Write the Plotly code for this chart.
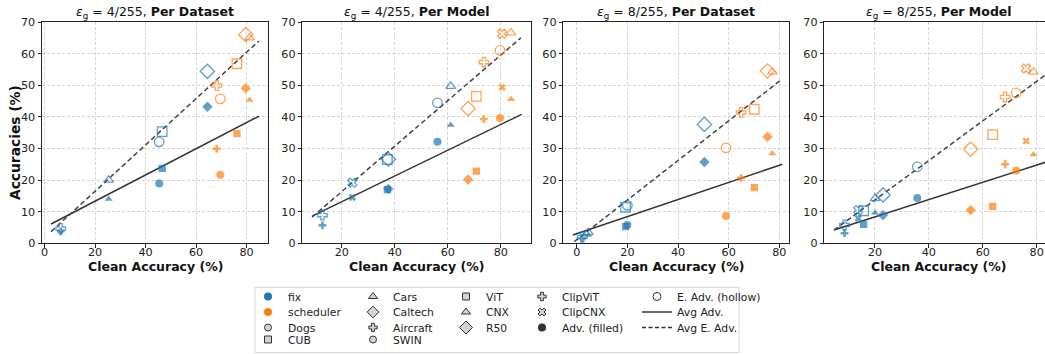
import plotly.graph_objects as go

W, H = 1045, 354
BLUE = "#1f77b4"
ORANGE = "#ff7f0e"
DARK = "#333333"

# ---------------- data ----------------
datasets = ["Dogs", "CUB", "Cars", "Caltech", "Aircraft"]
models = ["ViT", "CNX", "R50", "SWIN", "ClipViT", "ClipCNX"]

titles = [
    "<i>ε</i><sub>g</sub> = 4/255, <b>Per Dataset</b>",
    "<i>ε</i><sub>g</sub> = 4/255, <b>Per Model</b>",
    "<i>ε</i><sub>g</sub> = 8/255, <b>Per Dataset</b>",
    "<i>ε</i><sub>g</sub> = 8/255, <b>Per Model</b>",
]

# Panel 1: eps 4/255, per dataset
p1_fix_clean = [45.4, 46.6, 25.4, 64.5, 6.4]
p1_fix_adv = [18.9, 23.7, 14.0, 43.2, 3.8]
p1_fix_eadv = [32.1, 35.3, 20.0, 54.4, 4.7]
p1_sch_clean = [69.6, 76.2, 81.2, 79.7, 68.2]
p1_sch_adv = [21.7, 34.7, 45.3, 49.0, 29.9]
p1_sch_eadv = [45.7, 56.8, 65.0, 66.0, 49.9]
p1_avg_adv_x = [2.6, 84.9]
p1_avg_adv_y = [6.1, 40.2]
p1_avg_eadv_x = [2.6, 84.9]
p1_avg_eadv_y = [3.7, 64.0]

# Panel 2: eps 4/255, per model
p2_fix_clean = [37.2, 61.1, 37.6, 56.1, 12.7, 24.0]
p2_fix_adv = [17.0, 37.4, 17.2, 32.1, 5.7, 14.5]
p2_fix_eadv = [26.5, 49.7, 26.6, 44.4, 8.9, 19.2]
p2_sch_clean = [70.8, 83.9, 67.7, 79.7, 73.6, 80.5]
p2_sch_adv = [22.8, 45.6, 20.2, 39.6, 39.3, 49.3]
p2_sch_eadv = [46.5, 66.6, 42.6, 61.0, 57.3, 66.3]
p2_avg_adv_x = [8.8, 87.9]
p2_avg_adv_y = [8.6, 40.8]
p2_avg_eadv_x = [8.8, 87.6]
p2_avg_eadv_y = [8.3, 65.0]

# Panel 3: eps 8/255, per dataset
p3_fix_clean = [20.0, 19.3, 4.6, 50.4, 2.2]
p3_fix_adv = [5.8, 5.3, 2.6, 25.7, 1.6]
p3_fix_eadv = [12.0, 11.4, 3.4, 37.6, 2.0]
p3_sch_clean = [58.9, 70.1, 77.2, 75.3, 64.9]
p3_sch_adv = [8.6, 17.6, 28.4, 33.7, 20.7]
p3_sch_eadv = [30.2, 42.4, 54.2, 54.5, 41.4]
p3_avg_adv_x = [-1.5, 81.2]
p3_avg_adv_y = [2.6, 25.0]
p3_avg_eadv_x = [-1.0, 80.5]
p3_avg_eadv_y = [0.5, 51.6]

# Panel 4: eps 8/255, per model
p4_fix_clean = [15.8, 20.0, 23.0, 35.7, 8.7, 13.8]
p4_fix_adv = [6.0, 9.7, 8.9, 14.3, 3.2, 7.9]
p4_fix_eadv = [10.3, 14.2, 15.3, 24.2, 5.8, 10.5]
p4_sch_clean = [63.7, 78.8, 55.5, 72.4, 68.3, 76.1]
p4_sch_adv = [11.7, 28.1, 10.5, 23.0, 25.0, 32.4]
p4_sch_eadv = [34.4, 54.2, 29.8, 47.6, 46.3, 55.3]
p4_avg_adv_x = [4.8, 83.5]
p4_avg_adv_y = [4.2, 25.7]
p4_avg_eadv_x = [4.8, 83.5]
p4_avg_eadv_y = [4.2, 53.4]

x_ranges = [[-1.0, 88.5], [5.1, 91.3], [-5.3, 83.8], [1.2, 83.1]]
y_range = [0, 70]

# ---------------- styling ----------------
SYMBOL = {
    "Dogs": "circle", "CUB": "square", "Cars": "triangle-up", "Caltech": "diamond",
    "Aircraft": "cross", "ViT": "square", "CNX": "triangle-up", "R50": "diamond",
    "SWIN": "circle", "ClipViT": "cross", "ClipCNX": "x",
}
FILLED_SIZE = {"circle": 8, "square": 7.3, "triangle-up": 7, "diamond": 8, "cross": 6.5, "x": 6.5}
HOLLOW_SIZE = {"circle": 9.5, "square": 9.5, "triangle-up": 8.5, "diamond": 11, "cross": 8, "x": 8}

panels = [
    dict(cats=datasets, fc=p1_fix_clean, fa=p1_fix_adv, fe=p1_fix_eadv,
         sc=p1_sch_clean, sa=p1_sch_adv, se=p1_sch_eadv,
         lax=p1_avg_adv_x, lay=p1_avg_adv_y, lex=p1_avg_eadv_x, ley=p1_avg_eadv_y),
    dict(cats=models, fc=p2_fix_clean, fa=p2_fix_adv, fe=p2_fix_eadv,
         sc=p2_sch_clean, sa=p2_sch_adv, se=p2_sch_eadv,
         lax=p2_avg_adv_x, lay=p2_avg_adv_y, lex=p2_avg_eadv_x, ley=p2_avg_eadv_y),
    dict(cats=datasets, fc=p3_fix_clean, fa=p3_fix_adv, fe=p3_fix_eadv,
         sc=p3_sch_clean, sa=p3_sch_adv, se=p3_sch_eadv,
         lax=p3_avg_adv_x, lay=p3_avg_adv_y, lex=p3_avg_eadv_x, ley=p3_avg_eadv_y),
    dict(cats=models, fc=p4_fix_clean, fa=p4_fix_adv, fe=p4_fix_eadv,
         sc=p4_sch_clean, sa=p4_sch_adv, se=p4_sch_eadv,
         lax=p4_avg_adv_x, lay=p4_avg_adv_y, lex=p4_avg_eadv_x, ley=p4_avg_eadv_y),
]

x_px = [(42, 268), (302.3, 530.7), (563.3, 789), (824.3, 1045)]
y_px = (22, 243.3)

fig = go.Figure()

for i, p in enumerate(panels):
    sfx = "" if i == 0 else str(i + 1)
    xa, ya = "x" + sfx, "y" + sfx
    syms = [SYMBOL[c] for c in p["cats"]]
    fig.add_trace(go.Scatter(x=p["lax"], y=p["lay"], mode="lines", xaxis=xa, yaxis=ya,
                             line=dict(color=DARK, width=1.5), showlegend=False, hoverinfo="skip"))
    fig.add_trace(go.Scatter(x=p["lex"], y=p["ley"], mode="lines", xaxis=xa, yaxis=ya,
                             line=dict(color="#444444", width=1.5, dash="5px,3px"),
                             showlegend=False, hoverinfo="skip"))
    for clean, adv, eadv, col in [(p["fc"], p["fa"], p["fe"], BLUE), (p["sc"], p["sa"], p["se"], ORANGE)]:
        fig.add_trace(go.Scatter(
            x=clean, y=adv, mode="markers", xaxis=xa, yaxis=ya, showlegend=False,
            marker=dict(symbol=syms, size=[FILLED_SIZE[s] for s in syms], color=col, line=dict(width=0))))
        fig.add_trace(go.Scatter(
            x=clean, y=eadv, mode="markers", xaxis=xa, yaxis=ya, showlegend=False,
            marker=dict(symbol=[s + "-open" for s in syms], size=[HOLLOW_SIZE[s] for s in syms],
                        color=col, line=dict(width=1.3, color=col))))

axis_common = dict(
    showline=True, linecolor="#222222", linewidth=1, ticks="outside", ticklen=3.5,
    tickwidth=0.8, tickcolor="#222222", showgrid=True, gridcolor="#d6d6d6", gridwidth=0.8,
    griddash="3px,2px", zeroline=False, tickfont=dict(size=11.2, color="#222222"),
    fixedrange=True, automargin=False,
)

layout = dict(
    width=W, height=H, margin=dict(l=0, r=0, t=0, b=0),
    paper_bgcolor="white", plot_bgcolor="white",
    font=dict(family="DejaVu Sans", color="#222222"),
    annotations=[], shapes=[],
)

for i in range(4):
    sfx = "" if i == 0 else str(i + 1)
    x0, x1 = x_px[i]
    layout["xaxis" + sfx] = dict(axis_common, domain=[x0 / W, x1 / W], range=x_ranges[i],
                                 dtick=20, tick0=0, mirror=True, anchor="y" + sfx,
                                 ticklabelstandoff=-5)
    layout["yaxis" + sfx] = dict(axis_common, domain=[(H - y_px[1]) / H, (H - y_px[0]) / H],
                                 range=y_range, dtick=10, mirror=(i < 3), anchor="x" + sfx)
    cx = (x0 + x1) / 2 / W
    if i == 3:
        cx = (x0 + 1045 + 8) / 2 / W
    layout["annotations"].append(dict(text=titles[i], x=cx, y=(H - 12.7) / H, xref="paper", yref="paper",
                                      xanchor="center", yanchor="middle", showarrow=False,
                                      font=dict(size=12.5, color="#111111")))
    layout["annotations"].append(dict(text="<b>Clean Accuracy (%)</b>", x=cx, y=(H - 266.5) / H,
                                      xref="paper", yref="paper", xanchor="center", yanchor="middle",
                                      showarrow=False, font=dict(size=12.5, color="#111111")))

layout["annotations"].append(dict(text="<b>Accuracies (%)</b>", x=14.5 / W, y=(H - 142.5) / H,
                                  xref="paper", yref="paper", xanchor="center", yanchor="middle",
                                  textangle=-90, showarrow=False, font=dict(size=13.8, color="#111111")))

# ---------------- legend ----------------
GRAY_FILL = "#d3d3d3"
legend_cols = [
    [("fix", dict(symbol="circle", size=8, color=BLUE, line=dict(width=0)), None),
     ("scheduler", dict(symbol="circle", size=8, color=ORANGE, line=dict(width=0)), None),
     ("Dogs", dict(symbol="circle", size=7, color=GRAY_FILL, line=dict(width=1, color=DARK)), None),
     ("CUB", dict(symbol="square", size=7, color=GRAY_FILL, line=dict(width=1, color=DARK)), None)],
    [("Cars", dict(symbol="triangle-up", size=8, color=GRAY_FILL, line=dict(width=1, color=DARK)), None),
     ("Caltech", dict(symbol="diamond", size=9, color=GRAY_FILL, line=dict(width=1, color=DARK)), None),
     ("Aircraft", dict(symbol="cross", size=7, color=GRAY_FILL, line=dict(width=1, color=DARK)), None),
     ("SWIN", dict(symbol="circle", size=7, color=GRAY_FILL, line=dict(width=1, color=DARK)), None)],
    [("ViT", dict(symbol="square", size=7, color=GRAY_FILL, line=dict(width=1, color=DARK)), None),
     ("CNX", dict(symbol="triangle-up", size=8, color=GRAY_FILL, line=dict(width=1, color=DARK)), None),
     ("R50", dict(symbol="diamond", size=10, color=GRAY_FILL, line=dict(width=1, color=DARK)), None)],
    [("ClipViT", dict(symbol="cross", size=7, color=GRAY_FILL, line=dict(width=1, color=DARK)), None),
     ("ClipCNX", dict(symbol="x", size=7, color=GRAY_FILL, line=dict(width=1, color=DARK)), None),
     ("Adv. (filled)", dict(symbol="circle", size=8, color=DARK, line=dict(width=0)), None)],
    [("E. Adv. (hollow)", dict(symbol="circle-open", size=8, color=DARK, line=dict(width=1, color=DARK)), None),
     ("Avg Adv.", None, dict(color=DARK, width=1.5)),
     ("Avg E. Adv.", None, dict(color=DARK, width=1.5, dash="4px,2.5px"))],
]
col_marker_x = [268, 373, 466, 542, 657]
row_y = [296.5, 312, 327.5, 339.5]

k = 0
for ci, col in enumerate(legend_cols):
    for ri, (name, mk, ln) in enumerate(col):
        k += 1
        lid = "legend" if k == 1 else "legend%d" % k
        if mk is not None:
            tr = go.Scatter(x=[None], y=[None], mode="markers", marker=mk, name=name, legend=lid)
        else:
            tr = go.Scatter(x=[None], y=[None], mode="lines", line=ln, name=name, legend=lid)
        fig.add_trace(tr)
        layout[lid] = dict(x=(col_marker_x[ci] - 20) / W, y=(H - row_y[ri]) / H, xanchor="left",
                           yanchor="middle", bgcolor="rgba(0,0,0,0)", borderwidth=0,
                           font=dict(size=10.8, color="#222222"), itemclick=False,
                           itemdoubleclick=False)

layout["shapes"].append(dict(type="rect", xref="paper", yref="paper", x0=255 / W, x1=739 / W,
                             y0=(H - 352.5) / H, y1=(H - 287.3) / H,
                             line=dict(color="#cccccc", width=0.8), fillcolor="rgba(0,0,0,0)"))

fig.update_layout(**layout)
fig.write_html("out.html")
